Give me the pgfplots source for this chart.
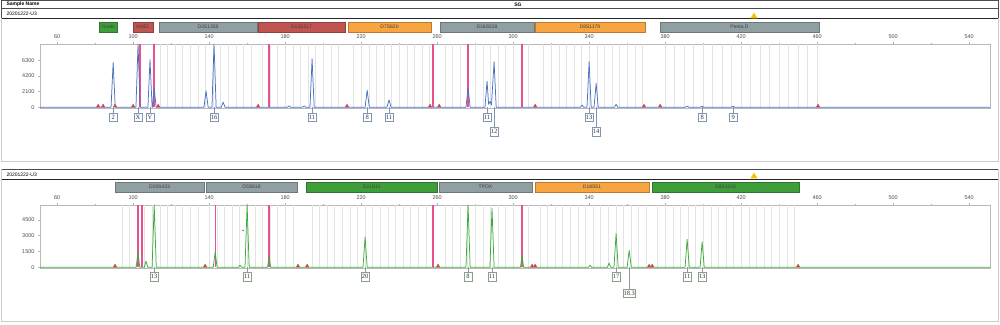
\documentclass[border=0pt]{standalone}
\usepackage{pgfplots}
\pgfplotsset{compat=1.18}
\usepackage{fontspec}
\setmainfont{Liberation Sans}
\newfontfamily\serifbox{Liberation Serif}
\definecolor{trA}{HTML}{4A72C4}
\definecolor{trB}{HTML}{3DAA3D}
\definecolor{pk}{HTML}{E8508E}
\definecolor{rd}{HTML}{D9403F}
\definecolor{lgreen}{HTML}{3E9E3A}
\definecolor{lred}{HTML}{BF5450}
\definecolor{lgray}{HTML}{8F9FA2}
\definecolor{lorange}{HTML}{F7A540}
\definecolor{ylw}{HTML}{F2C400}
\definecolor{boxA}{HTML}{7F95B5}
\definecolor{boxB}{HTML}{8AA08A}
\newcommand{\locus}[6]{%
  \fill[#5,draw=#5!75!black,line width=0.3pt] (#1,{324-#3}) rectangle (#2,{324-#4});
  \node[font=\fontsize{5}{5}\selectfont,text=black!75] at ({(#1+#2)/2},{324-(#3+#4)/2}) {#6};}
\newcommand{\lab}[4]{%
  \node[draw=#4,fill=white,font=\serifbox\fontsize{6.5}{7}\selectfont,inner sep=0.8pt,
        minimum height=8.5pt,minimum width=8pt,line width=0.4pt,text=black!80] (L)
        at ([yshift=-#3pt]axis cs:#1,0) {#2};
  \draw[#4,line width=0.4pt] (axis cs:#1,0) -- (L.north);}
\pgfplotsset{
  ep/.style={
    scale only axis, width=950pt, xmin=51, xmax=551, clip=false,
    axis line style={gray!55,line width=0.4pt},
    xtick={60,100,...,540}, minor x tick num=1,
    xtick pos=right, xticklabel pos=right, ytick pos=left,
    tick align=outside, major tick length=2pt, minor tick length=1.2pt,
    tick style={gray!60,line width=0.3pt},
    ticklabel style={font=\fontsize{5.5}{6}\selectfont,text=black!70},
    /pgf/number format/assume math mode=true,
    /pgf/number format/set thousands separator={},
    extra x tick style={grid=major,major grid style={gray!22,line width=0.35pt},major tick length=0pt},
    extra x tick labels={},
  }
}
\begin{document}
\begin{tikzpicture}[x=1pt,y=1pt]
\useasboundingbox (0,0) rectangle (1000,324);
\coordinate (TA) at (40,215.95);
\coordinate (TB) at (40,55.86);
% ---------- headers ----------
\draw[black!70,line width=0.5pt] (1,323.5) rectangle (998,315.5);
\node[anchor=west,font=\bfseries\fontsize{5}{5}\selectfont] at (3,319.5) {Sample Name};
\node[font=\bfseries\fontsize{5}{5}\selectfont] at (518,319.5) {SG};
\draw[black!70,line width=0.5pt] (1,315.5) -- (1,305.5) (998,315.5) -- (998,305.5);
\draw[black!85,line width=1pt] (1,305.5) -- (998,305.5);
\node[anchor=west,font=\fontsize{5}{5}\selectfont] at (3,310.3) {20201222-U3};
\draw[gray!40,line width=0.6pt] (1,305.5) -- (1,163) -- (998,163) -- (998,305.5);
\fill[ylw] (750.5,305.7) -- (754,311.3) -- (757.5,305.7) -- cycle;
\draw[black!70,line width=0.5pt] (1,154.5) -- (998,154.5);
\draw[black!85,line width=1pt] (1,144.5) -- (998,144.5);
\node[anchor=west,font=\fontsize{5}{5}\selectfont] at (3,149.3) {20201222-U3};
\draw[gray!40,line width=0.6pt] (1,154.5) -- (1,2.3) -- (998,2.3) -- (998,154.5);
\fill[ylw] (750.5,145.7) -- (754,151.3) -- (757.5,145.7) -- cycle;
% ---------- locus bars ----------
\locus{99}{117}{22.3}{31.7}{lgreen}{Yindel}
\locus{133}{153}{22.3}{31.7}{lred}{AMEL}
\locus{159}{257}{22.3}{31.7}{lgray}{D3S1358}
\locus{258}{345}{22.3}{31.7}{lred}{D13S317}
\locus{348}{431}{22.3}{31.7}{lorange}{D7S820}
\locus{440}{534}{22.3}{31.7}{lgray}{D16S539}
\locus{535}{645}{22.3}{31.7}{lorange}{D8S1179}
\locus{660}{819}{22.3}{31.7}{lgray}{Penta D}
\locus{115}{204}{182.3}{191.7}{lgray}{D19S433}
\locus{206}{297}{182.3}{191.7}{lgray}{D5S818}
\locus{306}{437}{182.3}{191.7}{lgreen}{D21S11}
\locus{439}{532}{182.3}{191.7}{lgray}{TPOX}
\locus{535}{649}{182.3}{191.7}{lorange}{D18S51}
\locus{652}{799}{182.3}{191.7}{lgreen}{D6S1043}
% ---------- top panel ----------
\begin{axis}[ep, at={(TA)}, anchor=south west, height=64.05pt,
  ymin=-100, ymax=8470, ytick={0,2100,4200,6300},
  extra x ticks={114,118,...,162,168,172,...,208,216,220,...,256,264,268,...,308,316,320,...,368,380,385,...,460}]
\addplot[pk,ycomb,line width=1.3pt] coordinates {(103.7,8470) (111.05,8470) (171.6,8470) (257.9,8470) (276.3,8470) (304.7,8470)};
\addplot[trA,line width=0.75pt,line join=round] coordinates {
(51,0) (88.4,0) (89.5,6000) (90.6,0) (101.5,0) (102.6,8470) (103.7,0)
(107.8,0) (108.9,6400) (110,0) (110.2,0) (111.1,2700) (112.1,0)
(137.3,0) (138.4,2200) (139.5,0) (141.5,0) (142.6,8470) (143.7,0)
(146.4,0) (147.4,700) (148.4,0) (181.2,0) (182.1,200) (183,0)
(189.1,0) (190,200) (190.9,0) (193.1,0) (194.2,6500) (195.3,0)
(222.1,0) (223.2,2300) (224.3,0) (233.6,0) (234.7,1000) (235.8,0)
(275.2,0) (276.3,2600) (277.4,0) (285.2,0) (286.3,3500) (287.1,400) (287.9,800) (288.6,300) (290,6100) (291.1,0)
(335.4,0) (336.3,300) (337.2,0) (338.9,0) (340,6100) (341.1,0) (342.6,0) (343.7,3200) (344.8,0)
(353.3,0) (354.2,400) (355.1,0) (390.6,0) (391.6,150) (392.6,0)
(398.5,0) (399.5,150) (400.5,0) (414.8,0) (415.8,150) (416.8,0) (551,0)};
\addplot[only marks,mark=triangle*,mark size=1.8pt,rd] coordinates {
(81.6,180) (84.2,180) (90.5,180) (100,180) (113.2,180) (165.8,180) (212.6,180)
(256.3,180) (261.1,180) (311.6,180) (368.9,180) (377.4,180) (460.5,180)};
\lab{89.5}{2}{10}{boxA}
\lab{102.6}{X}{10}{boxA}
\lab{108.9}{Y}{10}{boxA}
\lab{142.6}{16}{10}{boxA}
\lab{194.2}{11}{10}{boxA}
\lab{223.2}{8}{10}{boxA}
\lab{234.7}{11}{10}{boxA}
\lab{286.3}{11}{10}{boxA}
\lab{290}{12}{24.5}{boxA}
\lab{340}{13}{10}{boxA}
\lab{343.7}{14}{24.5}{boxA}
\lab{399.5}{8}{10}{boxA}
\lab{415.8}{9}{10}{boxA}
\end{axis}
% ---------- bottom panel ----------
\begin{axis}[ep, at={(TB)}, anchor=south west, height=63.14pt,
  ymin=-80, ymax=5900, ytick={0,1500,3000,4500},
  extra x ticks={94,98,...,134,140,144,...,184,194,198,...,258,264,268,...,308,314,318,...,370,376,380,...,448}]
\addplot[pk,ycomb,line width=1.3pt] coordinates {(102.6,5900) (104.7,5900) (143.2,5900) (171.6,5900) (257.9,5900) (304.7,5900)};
\addplot[trB,line width=0.75pt,line join=round] coordinates {
(51,0) (101.6,0) (102.6,1430) (103.5,0) (105.9,0) (106.8,600) (107.7,0)
(110,0) (111.1,5900) (112.2,0) (142.2,0) (143.2,1460) (144.2,0)
(155.4,0) (156.3,200) (157.2,0) (158.9,0) (160,5900) (161.1,0)
(170.8,0) (171.6,1000) (172.4,0) (221,0) (222.1,2870) (223.2,0)
(275.2,0) (276.3,5900) (277.4,0) (287.8,0) (288.9,5600) (290,0)
(303.9,0) (304.7,1200) (305.5,0) (339.6,0) (340.5,200) (341.4,0)
(349.6,0) (350.5,400) (351.4,0) (353.1,0) (354.2,3200) (355.3,0)
(360,0) (361.1,1620) (362.2,0) (390.5,0) (391.6,2650) (392.7,0)
(398.4,0) (399.5,2400) (400.6,0) (551,0)};
\addplot[only marks,mark=triangle*,mark size=1.8pt,rd] coordinates {
(90.5,130) (137.9,130) (186.8,130) (191.6,130) (260.5,130) (310,130) (311.6,130)
(371.6,130) (373.2,130) (450,130)};
\addplot[only marks,mark=*,mark size=0.5pt,black!60] coordinates {(157.9,3500)};
\lab{111.1}{13}{9.5}{boxB}
\lab{160}{11}{9.5}{boxB}
\lab{222.1}{20}{9.5}{boxB}
\lab{276.3}{8}{9.5}{boxB}
\lab{288.9}{11}{9.5}{boxB}
\lab{354.2}{17}{9.5}{boxB}
\lab{361.1}{18.3}{25.7}{boxB}
\lab{391.6}{11}{9.5}{boxB}
\lab{399.5}{13}{9.5}{boxB}
\end{axis}
\end{tikzpicture}
\end{document}
